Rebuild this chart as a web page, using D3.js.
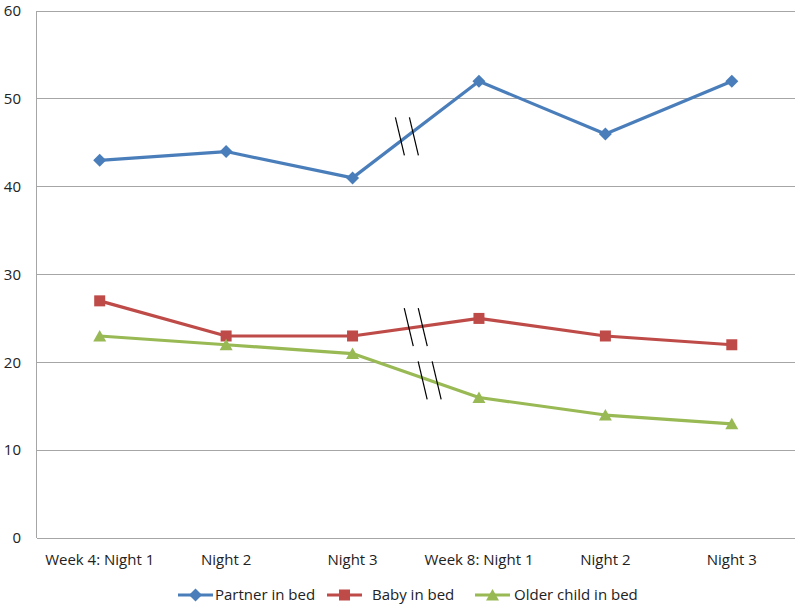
<!DOCTYPE html>
<html><head><meta charset="utf-8">
<script src="https://cdn.jsdelivr.net/npm/d3@7"></script>
<style>body{margin:0;background:#fff}text{font-family:"Open Sans",sans-serif;fill:#222}</style>
</head><body>
<svg id="c" width="800" height="608"></svg>
<script>
const categories = ["Week 4: Night 1","Night 2","Night 3","Week 8: Night 1","Night 2 ","Night 3 "];
const partner = [43,44,41,52,46,52];
const baby = [27,23,23,25,23,22];
const older = [23,22,21,16,14,13];
const yTicks = [0,10,20,30,40,50,60];
const seriesNames = ["Partner in bed","Baby in bed","Older child in bed"];
const colors = ["#4A7EBB","#BE4B48","#98B954"];
// break marks: fraction along Night3 -> Week 8 segment
const breakAt = [0.43, 0.5, 0.61];

const svg = d3.select("#c");
const m = {l:36.5, r:795, t:11, b:538};
const x = d3.scaleBand().domain(categories).range([m.l, m.r]);
const y = d3.scaleLinear().domain([0,60]).range([m.b, m.t]);
const cx = d => x(d) + x.bandwidth()/2;

function marker(sel, k){
  if(k===0) sel.append("path").attr("d","M0,-6.5L6.5,0L0,6.5L-6.5,0Z");
  else if(k===1) sel.append("rect").attr("x",-5.5).attr("y",-5.5).attr("width",11).attr("height",11);
  else sel.append("path").attr("d","M0,-6L6.5,5.5L-6.5,5.5Z");
}

// gridlines
svg.append("g").selectAll("line").data(yTicks).join("line")
  .attr("x1", m.l).attr("x2", m.r).attr("y1", d=>y(d)).attr("y2", d=>y(d))
  .attr("stroke","#A6A6A6").attr("stroke-width",1).attr("shape-rendering","crispEdges");
svg.append("line").attr("x1",m.l).attr("x2",m.l).attr("y1",m.t).attr("y2",m.b)
  .attr("stroke","#A6A6A6").attr("shape-rendering","crispEdges");

// y labels
svg.append("g").selectAll("text").data(yTicks).join("text")
  .attr("x", 21).attr("y", d=>y(d)).attr("dy","0.35em").attr("text-anchor","end")
  .attr("font-size",15).text(d=>d);
// x labels
svg.append("g").selectAll("text").data(categories).join("text")
  .attr("x", d=>cx(d)).attr("y", 565).attr("text-anchor","middle")
  .attr("font-size",15).text(d=>d.trim());

const all = [partner, baby, older];
const line = d3.line().x((d,i)=>cx(categories[i])).y(d=>y(d));
all.forEach((vals,k)=>{
  svg.append("path").datum(vals).attr("d", line).attr("fill","none")
    .attr("stroke", colors[k]).attr("stroke-width",3.2).attr("stroke-linejoin","round");
});
all.forEach((vals,k)=>{
  svg.append("g").attr("fill", colors[k]).selectAll("g").data(vals).join("g")
    .attr("transform",(d,i)=>`translate(${cx(categories[i])},${y(d)})`)
    .each(function(){ marker(d3.select(this), k); });
});
// break marks
all.forEach((vals,k)=>{
  const t = breakAt[k];
  const bx = cx(categories[2]) + t*(cx(categories[3])-cx(categories[2]));
  const by = y(vals[2] + t*(vals[3]-vals[2]));
  [-7,7].forEach(o=>{
    svg.append("line").attr("x1",bx+o-4.5).attr("y1",by-19).attr("x2",bx+o+4.5).attr("y2",by+19)
      .attr("stroke","#000").attr("stroke-width",1.2);
  });
});

// legend
const ly = 595;
const leg = [{x:178,tx:215},{x:327,tx:372},{x:475,tx:514}];
leg.forEach((p,k)=>{
  const g = svg.append("g");
  g.append("line").attr("x1",p.x).attr("x2",p.x+35).attr("y1",ly).attr("y2",ly)
    .attr("stroke",colors[k]).attr("stroke-width",3.2);
  const mg = g.append("g").attr("fill",colors[k]).attr("transform",`translate(${p.x+17.5},${ly})`);
  marker(mg, k);
  g.append("text").attr("x",p.tx).attr("y",ly).attr("dy","0.35em").attr("font-size",15).text(seriesNames[k]);
});
</script>
</body></html>
